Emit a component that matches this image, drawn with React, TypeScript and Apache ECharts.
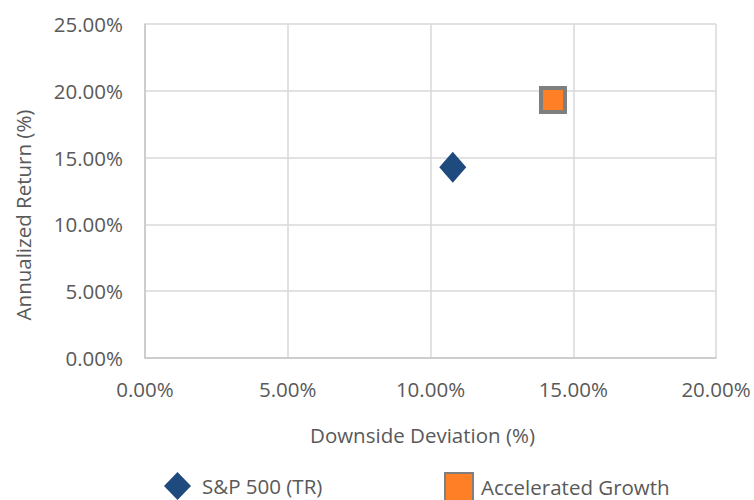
import React, { useEffect, useRef } from "react";
import * as echarts from "echarts";

const seriesNames = ["S&P 500 (TR)", "Accelerated Growth"];
const downsideDeviation = [0.1078, 0.1429];
const annualizedReturn = [0.1428, 0.1931];
const xTicks = { min: 0, max: 0.2, interval: 0.05 };
const yTicks = { min: 0, max: 0.25, interval: 0.05 };

const FONT = "'Open Sans', 'Noto Sans', sans-serif";
const TEXT = "#595959";

const pct = (v: number) => (v * 100).toFixed(2) + "%";

export default function App() {
  const ref = useRef<HTMLDivElement>(null);
  useEffect(() => {
    if (!ref.current) return;
    const chart = echarts.init(ref.current, undefined, { renderer: "svg" });
    chart.setOption({
      animation: false,
      backgroundColor: "#ffffff",
      grid: { left: 145, right: 38, top: 24, bottom: 142, containLabel: false },
      xAxis: {
        type: "value",
        min: xTicks.min,
        max: xTicks.max,
        interval: xTicks.interval,
        name: "Downside Deviation (%)",
        nameLocation: "middle",
        nameGap: 66,
        nameTextStyle: { fontFamily: FONT, fontSize: 20.5, color: TEXT, padding: [0, 16, 0, 0] },
        axisLine: { show: true, lineStyle: { color: "#c6c6c6", width: 1.5 } },
        axisTick: { show: false },
        axisLabel: { formatter: pct, fontFamily: FONT, fontSize: 20.5, color: TEXT, margin: 20 },
        splitLine: { show: true, lineStyle: { color: "#d9d9d9", width: 1.5 } },
      },
      yAxis: {
        type: "value",
        min: yTicks.min,
        max: yTicks.max,
        interval: yTicks.interval,
        name: "Annualized Return (%)",
        nameLocation: "middle",
        nameGap: 112,
        nameTextStyle: { fontFamily: FONT, fontSize: 20.5, color: TEXT, padding: [0, 48, 0, 0] },
        axisLine: { show: true, lineStyle: { color: "#c6c6c6", width: 1.5 } },
        axisTick: { show: false },
        axisLabel: { formatter: pct, fontFamily: FONT, fontSize: 20.5, color: TEXT, margin: 22 },
        splitLine: { show: true, lineStyle: { color: "#d9d9d9", width: 1.5 } },
      },
      legend: [
        {
          data: [seriesNames[0]],
          left: 164,
          top: 472,
          padding: 0,
          itemWidth: 27,
          itemHeight: 28,
          textStyle: { fontFamily: FONT, fontSize: 20.5, lineHeight: 22, color: TEXT, padding: [0, 0, 0, 6] },
        },
        {
          data: [seriesNames[1]],
          left: 444,
          top: 472,
          padding: 0,
          itemWidth: 28,
          itemHeight: 28,
          textStyle: { fontFamily: FONT, fontSize: 20.5, lineHeight: 22, color: TEXT, padding: [0, 0, 0, 3] },
        },
      ],
      series: [
        {
          name: seriesNames[0],
          type: "scatter",
          symbol: "diamond",
          symbolSize: [27, 31],
          itemStyle: { color: "#1f4a7e", opacity: 1 },
          data: [[downsideDeviation[0], annualizedReturn[0]]],
        },
        {
          name: seriesNames[1],
          type: "scatter",
          symbol: "rect",
          symbolSize: 24,
          itemStyle: { color: "#ff7f27", borderColor: "#7f7f7f", borderWidth: 4, opacity: 1 },
          data: [[downsideDeviation[1], annualizedReturn[1]]],
        },
      ],
    });
    return () => chart.dispose();
  }, []);
  return (
    <div
      ref={ref}
      style={{ position: "absolute", left: 0, top: 0, width: 754, height: 500 }}
    />
  );
}
